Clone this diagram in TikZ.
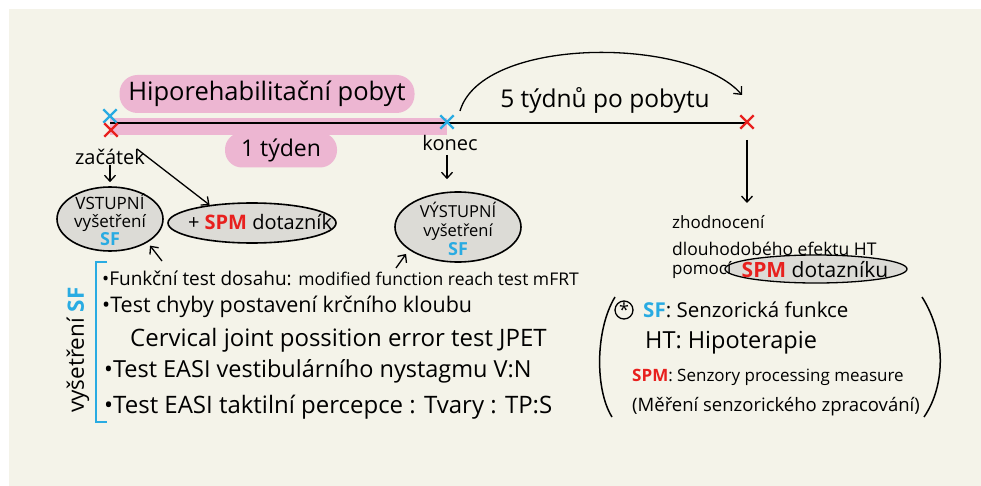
\documentclass[tikz,border=0pt]{standalone}
\usepackage{fontspec}
\setmainfont{Open Sans}
\usetikzlibrary{shapes.geometric,shapes.misc,arrows.meta}
\definecolor{bgcream}{RGB}{244,243,233}
\definecolor{pinkhl}{RGB}{237,182,210}
\definecolor{ellgray}{RGB}{220,219,214}
\definecolor{bluec}{RGB}{41,171,226}
\definecolor{redc}{RGB}{232,32,30}
\newcommand\myfs[1]{\fontsize{#1}{#1}\selectfont}
\begin{document}
\begin{tikzpicture}[x=1pt,y=-1pt,
  txt/.style={inner sep=0pt, text=black},
  arr/.style={-{Straight Barb[length=6pt,width=11pt]}, line width=1.3pt},
  bubble/.style={ellipse, draw=black, line width=1.6pt, fill=ellgray, inner sep=0pt},
  xmark/.style={cross out, draw=#1, line width=2.4pt, minimum size=11pt, inner sep=0pt},
  pinkbox/.style={fill=pinkhl, rounded corners=#1, inner sep=0pt},
  inkline/.style={line width=1.5pt, black},
]
\fill[white] (0,0) rectangle (981,486);
\fill[bgcream] (9,9) rectangle (981,486);
\useasboundingbox (0,0) rectangle (981,486);

% pink highlights
\fill[pinkhl] (110,118) rectangle (447,135);
\node[pinkbox=18pt, minimum width=295pt, minimum height=38pt] (title) at (267,94) {\myfs{25.5}Hiporehabilitační pobyt};
\node[pinkbox=17pt, minimum width=112pt, minimum height=35pt] (tyden) at (281,150) {\myfs{23}1 týden};

% timeline
\coordinate (ts) at (110,123);
\coordinate (te) at (747,123);
\draw[inkline] (ts) -- (te);
\node[xmark=bluec] (xs) at (110,116) {};
\node[xmark=redc] (xsr) at (111,130) {};
\node[xmark=bluec] (xk) at (447,122) {};
\node[xmark=redc] (xe) at (747,122) {};

% labels on timeline
\node[txt] (zac) at (110,157) {\myfs{20}začátek};
\node[txt] (kon) at (450,143) {\myfs{20}konec};
\node[txt] (tydny) at (605,100) {\myfs{24.5}5 týdnů po pobytu};

% curved arrow
\coordinate (cs) at (460,111);
\coordinate (ce) at (742,95);
\draw[arr] (cs) .. controls (482,36) and (690,36) .. (ce);

% bubbles
\node[bubble, minimum width=106pt, minimum height=64pt] (vstup) at (110,219) {};
\node[txt, align=center, font=\fontsize{17}{18}\selectfont] (vstupt) at (110,220) {VSTUPNÍ\\vyšetření\\\textcolor{bluec}{\fontsize{18}{18}\selectfont\bfseries SF}};
\node[bubble, minimum width=168pt, minimum height=40pt] (spm) at (252,223) {};
\node[txt] (spmt) at (260,222) {\myfs{20}+ \textcolor{redc}{\bfseries SPM} dotazník};
\node[bubble, minimum width=126pt, minimum height=70pt] (vystup) at (458,227) {};
\node[txt, align=center, font=\fontsize{16.5}{19}\selectfont] (vystupt) at (458,229) {VÝSTUPNÍ\\vyšetření\\\textcolor{bluec}{\fontsize{18}{18}\selectfont\bfseries SF}};

% arrows from timeline
\draw[arr, shorten >=4pt] (zac.south) -- (vstup.north);
\draw[arr] ([xshift=-8pt]zac.north east) -- (spm.157);
\draw[arr, shorten <=4pt, shorten >=12pt] (kon.south -| xk) -- (xk |- vystup.north);
\draw[arr, shorten <=18pt, shorten >=10pt] (xe.center) -- (xe.center |- 0,213);

% right block
\node[bubble, minimum width=182pt, minimum height=28pt, line width=1.3pt] (spm2) at (816,269) {};
\node[txt, anchor=west] (zhod) at (672,222) {\myfs{17}zhodnocení};
\node[txt, anchor=west] (dlouho) at (672,249) {\myfs{17.5}dlouhodobého efektu HT};
\node[txt, anchor=west] (pomoci) at (672,270) {\myfs{17}pomocí};
\node[txt] (spm2t) at (815,270) {\myfs{21}\textcolor{redc}{\bfseries SPM} dotazníku};

% list
\draw[bluec, line width=2.5pt] (107,262) -- (96,262) -- (96,422) -- (107,422);
\node[txt, rotate=90] (vys) at (78,350) {\myfs{22.5}vyšetření \textcolor{bluec}{\bfseries SF}};
\node[txt, anchor=west] (i1) at (102,278) {\myfs{19}•Funkční test dosahu: {\myfs{17.5}modified function reach test mFRT}};
\node[txt, anchor=west] (i2) at (102,307) {\myfs{21.5}•Test chyby postavení krčního kloubu};
\node[txt, anchor=west] (i3) at (130,340) {\myfs{24}Cervical joint possition error test JPET};
\node[txt, anchor=west] (i4) at (104,371) {\myfs{23.5}•Test EASI vestibulárního nystagmu V:N};
\node[txt, anchor=west] (i5) at (104,407) {\myfs{24}•Test EASI taktilní percepce : Tvary : TP:S};
\coordinate (a1) at (162,261);
\coordinate (a2) at (396,268);
\draw[arr, shorten >=4pt] (a1) -- (vstup.-32);
\draw[arr, shorten >=5pt] (a2) -- (vystup.-155);

% legend
\draw[inkline] (615,297) .. controls (595,330) and (595,390) .. (612,417);
\draw[inkline] (922,297) .. controls (946,335) and (946,385) .. (924,417);
\node[circle, draw, line width=1.3pt, minimum size=18pt, inner sep=0pt] (star) at (624,310) {\myfs{18}\raisebox{-5pt}{*}};
\node[txt, anchor=west] (l1) at (643,310) {\myfs{20.5}\textcolor{bluec}{\bfseries SF}: Senzorická funkce};
\node[txt, anchor=west] (l2) at (645,343) {\myfs{23.5}HT: Hipoterapie};
\node[txt, anchor=west] (l3) at (632,377) {\myfs{17}\textcolor{redc}{\bfseries SPM}: Senzory processing measure};
\node[txt, anchor=west] (l4) at (632,407) {\myfs{18.5}(Měření senzorického zpracování)};
\end{tikzpicture}
\end{document}
